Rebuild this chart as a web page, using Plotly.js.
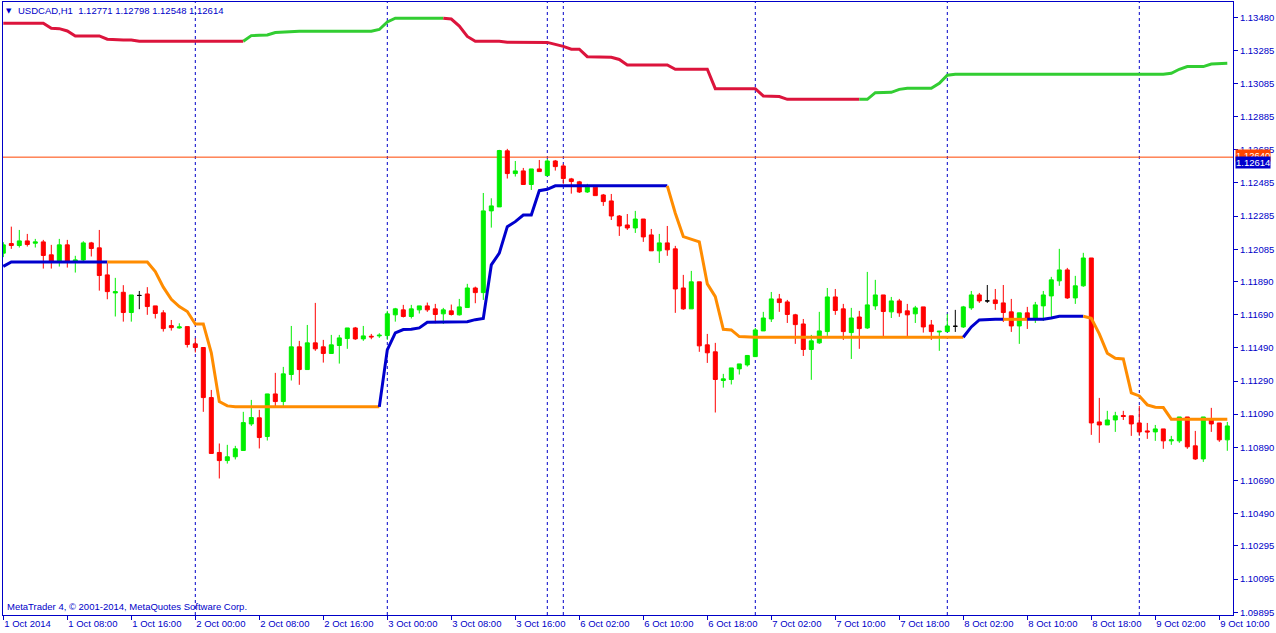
<!DOCTYPE html>
<html><head><meta charset="utf-8">
<script src="https://cdn.plot.ly/plotly-3.0.1.min.js"></script>
<style>html,body{margin:0;padding:0;background:#fff;overflow:hidden}#chart{width:1276px;height:633px}</style>
</head><body><div id="chart"></div>
<script>
// ---- tick labels ----
const timeTickBars = [0,8,16,24,32,40,48,56,64,72,80,88,96,104,112,120,128,136,144,152];
const timeTickLabels = ['1 Oct 2014','1 Oct 08:00','1 Oct 16:00','2 Oct 00:00','2 Oct 08:00','2 Oct 16:00','3 Oct 00:00','3 Oct 08:00','3 Oct 16:00','6 Oct 02:00','6 Oct 10:00','6 Oct 18:00','7 Oct 02:00','7 Oct 10:00','7 Oct 18:00','8 Oct 02:00','8 Oct 10:00','8 Oct 18:00','9 Oct 02:00','9 Oct 10:00'];
const priceTickLabels = ['1.09895','1.10095','1.10295','1.10490','1.10690','1.10890','1.11090','1.11290','1.11490','1.11690','1.11890','1.12085','1.12285','1.12485','1.12685','1.12885','1.13085','1.13285','1.13480'];

// ---- H1 bars ----
const open = [1.12061,1.12119,1.12107,1.12135,1.12121,1.12129,1.12051,1.12010,1.12111,1.12012,1.12020,1.12123,1.12093,1.11930,1.11821,1.11825,1.11703,1.11806,1.11815,1.11743,
1.11701,1.11624,1.11610,1.11618,1.11514,1.11492,1.11190,1.10859,1.10810,1.10833,1.10871,1.11031,1.11068,1.10955,1.11212,1.11166,1.11329,1.11496,1.11359,1.11520,
1.11496,1.11456,1.11504,1.11546,1.11610,1.11544,1.11560,1.11562,1.11564,1.11689,1.11719,1.11679,1.11719,1.11743,1.11725,1.11695,1.11713,1.11689,1.11733,1.11851,
1.11823,1.12316,1.12340,1.12678,1.12541,1.12557,1.12475,1.12569,1.12529,1.12617,1.12587,1.12509,1.12491,1.12430,1.12459,1.12412,1.12376,1.12285,1.12231,1.12213,
1.12267,1.12171,1.12075,1.12123,1.12087,1.11851,1.11725,1.11888,1.11508,1.11466,1.11293,1.11299,1.11363,1.11387,1.11437,1.11592,1.11664,1.11785,1.11767,1.11689,
1.11634,1.11480,1.11520,1.11588,1.11797,1.11725,1.11582,1.11676,1.11610,1.11743,1.11809,1.11707,1.11773,1.11713,1.11695,1.11737,1.11628,1.11586,1.11588,1.11620,
1.11616,1.11731,1.11809,1.11773,1.11779,1.11761,1.11707,1.11622,1.11701,1.11664,1.11743,1.11803,1.11894,1.11960,1.11791,1.11864,1.12032,1.11043,1.11025,1.11055,
1.11082,1.11080,1.11037,1.10989,1.10983,1.11001,1.10929,1.10929,1.11073,1.10899,1.10820,1.11055,1.11037,1.10935];
const high = [1.12127,1.12221,1.12201,1.12177,1.12147,1.12141,1.12111,1.12147,1.12141,1.12045,1.12133,1.12129,1.12201,1.12000,1.11912,1.11868,1.11809,1.11833,1.11856,1.11743,
1.11717,1.11658,1.11638,1.11618,1.11548,1.11492,1.11236,1.10913,1.10905,1.10899,1.11104,1.11176,1.11116,1.11210,1.11339,1.11375,1.11622,1.11532,1.11628,1.11761,
1.11538,1.11568,1.11568,1.11610,1.11616,1.11622,1.11574,1.11578,1.11713,1.11731,1.11749,1.11749,1.11743,1.11763,1.11755,1.11731,1.11751,1.11785,1.11876,1.11859,
1.12424,1.12392,1.12684,1.12690,1.12617,1.12575,1.12569,1.12623,1.12629,1.12623,1.12599,1.12515,1.12497,1.12479,1.12459,1.12418,1.12418,1.12291,1.12297,1.12316,
1.12267,1.12207,1.12177,1.12225,1.12105,1.11930,1.11954,1.11888,1.11574,1.11520,1.11333,1.11369,1.11393,1.11447,1.11610,1.11707,1.11827,1.11815,1.11779,1.11695,
1.11664,1.11568,1.11707,1.11851,1.11845,1.11755,1.11731,1.11713,1.11948,1.11900,1.11809,1.11797,1.11785,1.11755,1.11743,1.11737,1.11658,1.11592,1.11695,1.11719,
1.11743,1.11833,1.11821,1.11869,1.11845,1.11869,1.11785,1.11701,1.11737,1.11767,1.11833,1.11918,1.12087,1.11972,1.11924,1.12063,1.12032,1.11188,1.11110,1.11104,
1.11110,1.11080,1.11140,1.11037,1.11025,1.11001,1.10959,1.11073,1.11073,1.10989,1.11073,1.11128,1.11037,1.11043];
const low = [1.12037,1.12087,1.12095,1.12101,1.12095,1.11968,1.11968,1.11980,1.11974,1.11944,1.12012,1.12041,1.11835,1.11783,1.11679,1.11648,1.11648,1.11723,1.11689,1.11667,
1.11588,1.11594,1.11606,1.11492,1.11462,1.11104,1.10853,1.10702,1.10792,1.10817,1.10871,1.11019,1.10883,1.10931,1.11136,1.11140,1.11293,1.11267,1.11359,1.11472,
1.11401,1.11456,1.11395,1.11484,1.11538,1.11532,1.11542,1.11550,1.11538,1.11648,1.11673,1.11667,1.11697,1.11707,1.11638,1.11634,1.11685,1.11685,1.11733,1.11759,
1.11779,1.12215,1.12340,1.12511,1.12523,1.12475,1.12442,1.12553,1.12529,1.12559,1.12479,1.12420,1.12424,1.12424,1.12408,1.12346,1.12261,1.12165,1.12201,1.12183,
1.12129,1.12075,1.12002,1.12045,1.11701,1.11719,1.11725,1.11466,1.11399,1.11100,1.11250,1.11269,1.11329,1.11377,1.11436,1.11592,1.11646,1.11707,1.11640,1.11514,
1.11441,1.11297,1.11514,1.11562,1.11689,1.11538,1.11423,1.11484,1.11604,1.11719,1.11556,1.11670,1.11677,1.11556,1.11640,1.11582,1.11538,1.11472,1.11588,1.11586,
1.11610,1.11719,1.11761,1.11761,1.11719,1.11646,1.11586,1.11514,1.11604,1.11640,1.11652,1.11673,1.11864,1.11785,1.11755,1.11858,1.10965,1.10917,1.11025,1.10983,
1.11055,1.10959,1.10959,1.10941,1.10929,1.10881,1.10905,1.10917,1.10881,1.10814,1.10802,1.10983,1.10923,1.10869];
const close = [1.12111,1.12107,1.12135,1.12113,1.12129,1.12047,1.12010,1.12111,1.12010,1.12020,1.12123,1.12089,1.11926,1.11829,1.11829,1.11703,1.11809,1.11806,1.11739,1.11697,
1.11606,1.11612,1.11616,1.11510,1.11492,1.11190,1.10853,1.10810,1.10833,1.10881,1.11039,1.11070,1.10949,1.11212,1.11166,1.11333,1.11496,1.11359,1.11520,1.11484,
1.11456,1.11508,1.11550,1.11610,1.11544,1.11562,1.11556,1.11566,1.11695,1.11725,1.11679,1.11725,1.11743,1.11719,1.11691,1.11719,1.11691,1.11737,1.11851,1.11823,
1.12316,1.12346,1.12680,1.12541,1.12557,1.12475,1.12569,1.12553,1.12617,1.12583,1.12511,1.12493,1.12430,1.12459,1.12408,1.12372,1.12285,1.12225,1.12213,1.12267,
1.12159,1.12075,1.12123,1.12081,1.11845,1.11725,1.11888,1.11502,1.11460,1.11299,1.11303,1.11369,1.11393,1.11444,1.11598,1.11670,1.11785,1.11763,1.11691,1.11630,
1.11480,1.11532,1.11592,1.11797,1.11715,1.11588,1.11670,1.11606,1.11749,1.11809,1.11709,1.11773,1.11701,1.11689,1.11731,1.11616,1.11588,1.11590,1.11622,1.11620,
1.11737,1.11809,1.11773,1.11773,1.11757,1.11703,1.11622,1.11701,1.11664,1.11749,1.11809,1.11900,1.11960,1.11791,1.11864,1.12032,1.11037,1.11025,1.11055,1.11080,
1.11076,1.11031,1.10983,1.10983,1.11001,1.10929,1.10935,1.11073,1.10893,1.10820,1.11073,1.11031,1.10935,1.11019];

// ---- lower trend line (blue = up, orange = down) ----
const trendLine = [1.11981,
1.12008,1.12008,1.12008,1.12008,1.12008,1.12008,1.12008,1.12008,1.12008,1.12008,1.12008,1.12008,1.12008,1.12008,1.12008,1.12008,1.12008,1.12008,
1.11950,1.11856,1.11783,1.11739,1.11709,1.11634,1.11634,1.11460,1.11166,1.11140,
1.11134,1.11134,1.11134,1.11134,1.11134,1.11134,1.11134,1.11134,1.11134,1.11134,1.11134,1.11134,1.11134,1.11134,1.11134,1.11134,1.11134,1.11134,1.11134,
1.11478,1.11580,1.11600,1.11602,1.11610,
1.11644,1.11644,1.11644,1.11644,1.11644,
1.11648,1.11660,1.11667,
1.11990,1.12061,1.12221,1.12251,1.12291,1.12291,1.12438,1.12446,
1.12467,1.12467,1.12467,1.12467,1.12467,1.12467,1.12467,1.12467,1.12467,1.12467,1.12467,1.12467,1.12467,1.12467,1.12467,
1.12302,1.12161,1.12147,1.12129,1.11876,1.11799,1.11602,1.11598,1.11558,
1.11554,1.11554,1.11554,1.11554,1.11554,1.11554,1.11554,1.11554,1.11554,1.11554,1.11554,1.11554,1.11554,1.11554,
1.11554,1.11554,1.11554,1.11554,1.11554,1.11554,1.11554,1.11554,1.11554,1.11554,1.11554,1.11554,1.11554,1.11554,
1.11616,1.11658,
1.11662,1.11662,1.11662,1.11662,1.11662,1.11662,1.11662,1.11662,
1.11670,
1.11680,1.11680,1.11680,1.11680,
1.11668,1.11574,1.11458,1.11427,1.11423,1.11218,1.11200,1.11146,1.11132,1.11130,
1.11060,1.11060,1.11060,1.11060,1.11060,1.11060,1.11060,1.11060];
const trendDir = [1,1,1,1,1,1,1,1,1,1,1,1,1,
-1,-1,-1,-1,-1,-1,-1,-1,-1,-1,-1,-1,-1,-1,-1,-1,-1,-1,-1,-1,-1,-1,-1,-1,-1,-1,-1,-1,-1,-1,-1,-1,-1,-1,
1,1,1,1,1,1,1,1,1,1,1,1,1,1,1,1,1,1,1,1,1,1,1,1,1,1,1,1,1,1,1,1,1,1,1,1,
-1,-1,-1,-1,-1,-1,-1,-1,-1,-1,-1,-1,-1,-1,-1,-1,-1,-1,-1,-1,-1,-1,-1,-1,-1,-1,-1,-1,-1,-1,-1,-1,-1,-1,-1,-1,-1,
1,1,1,1,1,
-1,-1,-1,
1,1,1,1,1,1,1,
-1,-1,-1,-1,-1,-1,-1,-1,-1,-1,-1,-1,-1,-1,-1,-1,-1,-1,-1];

// ---- upper line (green = up, crimson = down) ----
const slowLine = [1.13448,1.13448,1.13448,1.13448,1.13448,1.13448,1.13417,1.13415,1.13401,1.13371,1.13371,1.13371,1.13371,1.13351,1.13347,1.13347,1.13347,
1.13339,1.13339,1.13339,1.13339,1.13339,1.13339,1.13339,1.13339,1.13339,1.13339,1.13339,1.13339,1.13339,1.13339,
1.13373,1.13375,1.13377,1.13392,1.13395,1.13398,
1.13399,1.13399,1.13399,1.13399,1.13399,1.13399,1.13399,1.13399,1.13399,1.13399,
1.13410,1.13455,
1.13478,1.13478,1.13478,1.13478,1.13478,1.13478,1.13478,
1.13473,1.13431,1.13368,
1.13339,1.13339,1.13339,1.13339,
1.13333,1.13333,1.13333,1.13333,1.13333,
1.13332,1.13320,1.13308,1.13291,1.13291,1.13246,1.13244,1.13244,1.13242,1.13229,
1.13196,1.13196,1.13196,1.13196,1.13196,1.13196,
1.13170,1.13170,1.13170,1.13170,1.13170,
1.13053,1.13053,1.13053,1.13053,1.13053,1.13053,
1.13009,1.13009,1.13006,
1.12989,1.12989,1.12989,1.12989,1.12989,1.12989,1.12989,1.12989,1.12989,1.12989,1.12989,
1.13029,1.13031,1.13031,1.13049,
1.13056,1.13056,1.13056,1.13056,
1.13086,1.13134,
1.13140,1.13140,1.13140,1.13140,1.13140,1.13140,1.13140,1.13140,1.13140,1.13140,1.13140,1.13140,1.13140,1.13140,
1.13140,1.13140,1.13140,1.13140,1.13140,1.13140,1.13140,1.13140,1.13140,1.13140,1.13140,1.13140,1.13140,
1.13146,1.13170,1.13186,1.13186,1.13186,1.13202,1.13206,1.13206];
const slowDir = [-1,-1,-1,-1,-1,-1,-1,-1,-1,-1,-1,-1,-1,-1,-1,-1,-1,-1,-1,-1,-1,-1,-1,-1,-1,-1,-1,-1,-1,-1,
1,1,1,1,1,1,1,1,1,1,1,1,1,1,1,1,1,1,1,1,1,1,1,1,1,
-1,-1,-1,-1,-1,-1,-1,-1,-1,-1,-1,-1,-1,-1,-1,-1,-1,-1,-1,-1,-1,-1,-1,-1,-1,-1,-1,-1,-1,-1,-1,-1,-1,-1,-1,-1,-1,-1,-1,-1,-1,-1,-1,-1,-1,-1,-1,-1,-1,-1,-1,-1,
1,1,1,1,1,1,1,1,1,1,1,1,1,1,1,1,1,1,1,1,1,1,1,1,1,1,1,1,1,1,1,1,1,1,1,1,1,1,1,1,1,1,1,1,1,1,1];

const separatorBars = [24,48,68,70,94,118,142];
const hLinePrice = 1.12640;
const hLineLabel = '1.12640';
const bidPrice = 1.12614;
const bidLabel = '1.12614';
const headerText = 'USDCAD,H1\u00a0\u00a01.12771 1.12798 1.12548 1.12614';
const copyrightText = 'MetaTrader 4, \u00a9 2001-2014, MetaQuotes Software Corp.';

// ---- styles ----
const FG = '#0000c8';
const BULL = '#00ee00', BEAR = '#ff0000', DOJI = '#000000';
const UP_FAST = '#0000cd', DN_FAST = '#ff8c00';
const UP_SLOW = '#32cd32', DN_SLOW = '#dc143c';
const FONT = 'Liberation Sans, Arial, sans-serif';

const traces = [];
function candleTrace(filter, color) {
  const idx = [];
  for (let i = 0; i < open.length; i++) if (filter(open[i], close[i])) idx.push(i);
  const st = {line: {color: color, width: 1}, fillcolor: color};
  return {type: 'candlestick', x: idx, open: idx.map(i => open[i]), high: idx.map(i => high[i]),
    low: idx.map(i => low[i]), close: idx.map(i => close[i]), increasing: st, decreasing: st,
    whiskerwidth: 0, line: {width: 1}, hoverinfo: 'skip', showlegend: false};
}
traces.push(candleTrace((o, c) => c > o, BULL));
traces.push(candleTrace((o, c) => c < o, BEAR));
traces.push(candleTrace((o, c) => c === o, DOJI));

function lineSegments(vals, dir, upC, dnC) {
  let start = 0;
  for (let i = 1; i <= vals.length; i++) {
    if (i === vals.length || dir[i] !== dir[start]) {
      const end = Math.min(i, vals.length - 1);
      const xs = [], ys = [];
      for (let k = start; k <= end; k++) { xs.push(k); ys.push(vals[k]); }
      traces.push({type: 'scatter', mode: 'lines', x: xs, y: ys,
        line: {color: dir[start] > 0 ? upC : dnC, width: 3}, hoverinfo: 'skip', showlegend: false});
      start = i;
    }
  }
}
lineSegments(slowLine, slowDir, UP_SLOW, DN_SLOW);
lineSegments(trendLine, trendDir, UP_FAST, DN_FAST);

const shapes = separatorBars.map(b => ({type: 'line', xref: 'x', yref: 'paper', x0: b, x1: b, y0: 0, y1: 1,
  line: {color: FG, width: 1, dash: '3px,3px'}, layer: 'below'}));
shapes.push({type: 'line', xref: 'paper', yref: 'y', x0: 0, x1: 1, y0: hLinePrice, y1: hLinePrice,
  line: {color: '#ff4500', width: 1}, layer: 'below'});

const annotations = [
  {xref: 'paper', yref: 'paper', x: 0.00512, y: 0.9855, xanchor: 'center', yanchor: 'middle', showarrow: false,
   text: '\u25bc', font: {family: 'DejaVu Sans', size: 7, color: FG}},
  {xref: 'paper', yref: 'paper', x: 0.0106, y: 0.9858, xanchor: 'left', yanchor: 'middle', showarrow: false,
   text: headerText, font: {family: FONT, size: 9.5, color: FG}},
  {xref: 'paper', yref: 'paper', x: 0.0016, y: 0.0131, xanchor: 'left', yanchor: 'middle', showarrow: false,
   text: copyrightText, font: {family: FONT, size: 9.5, color: FG}},
  {xref: 'paper', yref: 'y', x: 1, xshift: 2, y: hLinePrice, yshift: 2, xanchor: 'left', yanchor: 'middle', showarrow: false,
   text: hLineLabel, bgcolor: '#ff4500', borderpad: 0, font: {family: FONT, size: 9.5, color: '#ffffff'}},
  {xref: 'paper', yref: 'y', x: 1, xshift: 2, y: bidPrice, yshift: -1, xanchor: 'left', yanchor: 'middle', showarrow: false,
   text: bidLabel, bgcolor: '#0000cd', borderpad: 0, font: {family: FONT, size: 9.5, color: '#ffffff'}}
];

const layout = {
  width: 1276, height: 633,
  margin: {l: 3, r: 43, t: 2, b: 18, pad: 0},
  paper_bgcolor: '#ffffff', plot_bgcolor: '#ffffff',
  font: {family: FONT, size: 9.5, color: FG},
  showlegend: false, hovermode: false,
  boxgap: 0.5, boxgroupgap: 0,
  xaxis: {type: 'linear', range: [-0.0375, 153.7125], rangeslider: {visible: false},
    tickmode: 'array', tickvals: timeTickBars, ticktext: timeTickLabels,
    ticks: 'outside', ticklen: 4, tickcolor: FG, tickwidth: 1,
    ticklabelposition: 'outside right',
    showline: true, linecolor: FG, linewidth: 1, mirror: true,
    showgrid: false, zeroline: false, fixedrange: true,
    tickfont: {family: FONT, size: 9.5, color: FG}},
  yaxis: {side: 'right', range: [1.0987873, 1.1357574],
    tickmode: 'array', tickvals: priceTickLabels.map(Number), ticktext: priceTickLabels,
    ticks: 'outside', ticklen: 4, tickcolor: FG, tickwidth: 1,
    showline: true, linecolor: FG, linewidth: 1, mirror: true,
    showgrid: false, zeroline: false, fixedrange: true,
    tickfont: {family: FONT, size: 9.5, color: FG}},
  shapes: shapes,
  annotations: annotations
};

Plotly.newPlot('chart', traces, layout, {displayModeBar: false, staticPlot: true});
</script></body></html>
